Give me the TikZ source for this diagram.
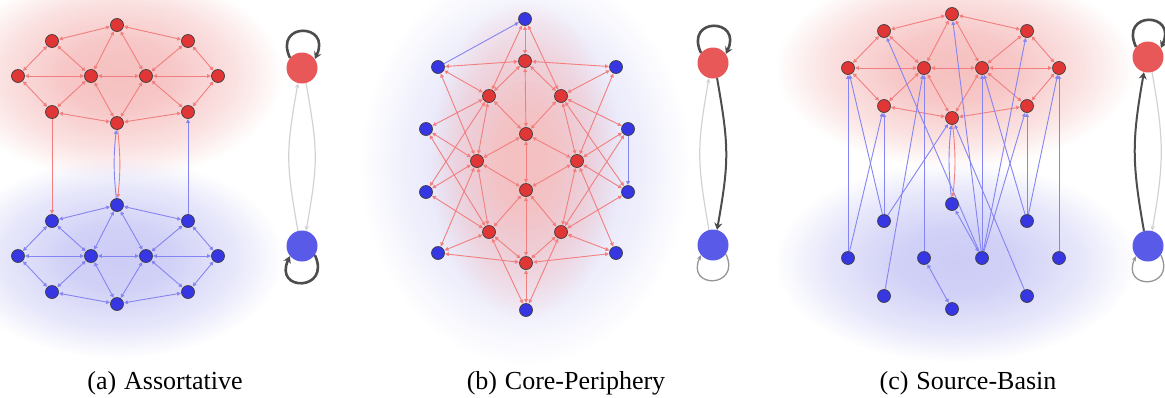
\documentclass[tikz,border=0pt]{standalone}
\usepackage{fontspec}
\setmainfont{Liberation Serif}
\usetikzlibrary{arrows.meta,fadings}
\definecolor{rnode}{HTML}{E03636}
\definecolor{bnode}{HTML}{3636E2}
\definecolor{redge}{HTML}{F27E7E}
\definecolor{bedge}{HTML}{8484F2}
\definecolor{rglow}{HTML}{F6C0C0}
\definecolor{bglow}{HTML}{CCCCF6}
\definecolor{bglowl}{HTML}{DCDCF8}
\definecolor{mred}{HTML}{E85858}
\definecolor{mblue}{HTML}{5A5AE8}
\definecolor{dk}{HTML}{4D4D4D}
\definecolor{lt}{HTML}{D2D2D2}
\definecolor{md}{HTML}{959595}
\pgfdeclareradialshading{glowsh}{\pgfpointorigin}{color(0bp)=(white); color(8bp)=(white!90!black); color(18bp)=(white!45!black); color(25bp)=(black); color(50bp)=(black)}
\pgfdeclarefading{glow}{\pgfuseshading{glowsh}}
\pgfdeclarelayer{glowl}
\pgfdeclarelayer{edges}
\pgfsetlayers{glowl,edges,main}
\newcommand\tenedges[2]{\foreach \u/\v in {T/UL,T/UR,T/IL,T/IR,UL/FL,UL/IL,UR/IR,UR/FR,FL/IL,IL/IR,IR/FR,FL/LL,IL/LL,IL/B,IR/B,IR/LR,FR/LR,LL/B,B/LR}{\draw[#2] (#1\u) -- (#1\v);}}
\tikzset{
  tri/.tip={Triangle[length=3.8pt,width=3.8pt]},
  mtip/.tip={Stealth[length=7pt,width=8pt]},
  stip/.tip={Stealth[length=5pt,width=4.5pt]},
  rn/.style={circle,fill=rnode,draw=black!75,line width=0.7pt,minimum size=13pt,inner sep=0pt},
  bn/.style={rn,fill=bnode},
  re/.style={draw=redge,line width=0.9pt,arrows={tri-tri},shorten <=0.3pt,shorten >=0.3pt},
  be/.style={re,draw=bedge},
  reone/.style={draw=redge,line width=0.9pt,arrows={-tri},shorten >=0.3pt},
  beone/.style={reone,draw=bedge},
  mr/.style={circle,fill=mred,minimum size=31pt,inner sep=0pt},
  mb/.style={mr,fill=mblue},
  thk/.style={draw=dk,line width=2.6pt,arrows={-mtip}},
  thkm/.style={draw=dk,line width=2pt,arrows={-mtip}},
  thn/.style={draw=lt,line width=1.2pt,arrows={-stip}},
  mdl/.style={draw=md,line width=1.3pt,arrows={-stip}},
  captext/.style={anchor=base,font=\fontsize{26}{30}\selectfont},
}
\begin{document}
\begin{tikzpicture}[x=1pt,y=1pt]
\useasboundingbox (0,0) rectangle (1165,-397);
% ---- glows
\begin{pgfonlayer}{glowl}
\fill[rglow,path fading=glow] (118,-75) ellipse [x radius=165, y radius=105];
\fill[bglow,path fading=glow] (118,-258) ellipse [x radius=165, y radius=100];
\fill[bglowl,path fading=glow] (525,-165) ellipse [x radius=165, y radius=200];
\fill[rglow,path fading=glow] (525,-160) ellipse [x radius=95, y radius=160];
\fill[rglow,path fading=glow] (955,-68) ellipse [x radius=180, y radius=100];
\fill[bglow,path fading=glow] (955,-262) ellipse [x radius=180, y radius=100];
\end{pgfonlayer}
% ---- panel (a)
\foreach \n/\x/\y in {T/117/25,UL/52/41,UR/188/41,FL/18/76,IL/91/76,IR/146/76,FR/218/76,LL/52/112,LR/188/112,B/117/123}
  \node[rn] (ar\n) at (\x,-\y) {};
\foreach \n/\x/\y in {T/117/205,UL/52/221,UR/188/221,FL/18/256,IL/91/256,IR/146/256,FR/218/256,LL/52/292,LR/188/292,B/117/304}
  \node[bn] (ab\n) at (\x,-\y) {};
\begin{pgfonlayer}{edges}
\tenedges{ar}{re}
\tenedges{ab}{be}
\draw[reone] (arLL) -- (abUL);
\draw[beone] (abUR) -- (arLR);
\draw[beone] (abT) to[out=96,in=-96] (arB);
\draw[reone] (arB) to[out=-84,in=84] (abT);
\end{pgfonlayer}
% meta (a)
\node[mr] (maR) at (302,-68) {};
\node[mb] (maB) at (302,-246) {};
\draw[thk] (maR.140) .. controls +(115:40) and +(65:40) .. (maR.35);
\draw[thk] (maB.-35) .. controls +(-65:40) and +(-115:40) .. (maB.-140);
\draw[thn] (maB.105) .. controls +(100:70) and +(-100:70) .. (maR.-105);
\draw[thn] (maR.-75) .. controls +(-80:70) and +(80:70) .. (maB.75);
% ---- panel (b)
\foreach \n/\x/\y in {FL/525/61,UL/489/96,LL/561/96,IL/526/134,T/477/161,B/577/161,IR/526/190,UR/489/232,LR/561/232,FR/526/263}
  \node[rn] (br\n) at (\x,-\y) {};
\foreach \n/\x/\y in {1/525/19,2/438/67,3/616/67,4/426/129,5/628/129,6/426/192,7/628/192,8/438/253,9/616/253,10/526/310}
  \node[bn] (bp\n) at (\x,-\y) {};
\begin{pgfonlayer}{edges}
\tenedges{br}{re}
\foreach \p/\a/\b/\c in {1/FL/UL/LL,2/FL/UL/T,3/FL/LL/B,4/UL/T/UR,5/LL/B/LR,6/UL/T/UR,7/LL/B/LR,8/T/UR/FR,9/B/LR/FR,10/UR/LR/FR}
  {\draw[re] (br\a) -- (bp\p); \draw[re] (br\b) -- (bp\p); \draw[re] (br\c) -- (bp\p);}
\draw[beone] (bp2) -- (bp1);
\draw[beone] (bp5) -- (bp7);
\end{pgfonlayer}
% meta (b)
\node[mr] (mbR) at (713,-63) {};
\node[mb] (mbB) at (713,-245) {};
\draw[thk] (mbR.140) .. controls +(115:40) and +(65:40) .. (mbR.35);
\draw[mdl] (mbB.-35) .. controls +(-65:38) and +(-115:38) .. (mbB.-140);
\draw[thn] (mbB.105) .. controls +(100:70) and +(-100:70) .. (mbR.-105);
\draw[thkm] (mbR.-75) .. controls +(-80:70) and +(80:70) .. (mbB.75);
% ---- panel (c)
\foreach \n/\x/\y in {T/952/14,UL/884/31,UR/1027/31,FL/848/68,IL/924/68,IR/982/68,FR/1059/68,LL/884/106,LR/1027/106,B/952/118}
  \node[rn] (cr\n) at (\x,-\y) {};
\foreach \n/\x/\y in {T/952/204,UL/884/221,UR/1027/221,FL/848/258,IL/924/258,IR/982/258,FR/1059/258,LL/884/296,LR/1027/296,B/952/309}
  \node[bn] (cb\n) at (\x,-\y) {};
\begin{pgfonlayer}{edges}
\tenedges{cr}{re}
\foreach \s/\t in {FL/FL,FL/LL,UL/LL,UL/FL,UL/B,LL/IL,IL/IL,IR/IR,IR/T,IR/UL,IR/UR,IR/LR,UR/LR,UR/IR,UR/FR,FR/FR,LR/B}
  {\draw[beone] (cb\s) -- (cr\t);}
\draw[be] (cbT) -- (cbIR);
\draw[be] (cbIL) -- (cbB);
\draw[beone] (cbT) to[out=96,in=-96] (crB);
\draw[reone] (crB) to[out=-84,in=84] (cbT);
\end{pgfonlayer}
% meta (c)
\node[mr] (mcR) at (1148,-57) {};
\node[mb] (mcB) at (1148,-246) {};
\draw[thk] (mcR.140) .. controls +(115:40) and +(65:40) .. (mcR.35);
\draw[mdl] (mcB.-35) .. controls +(-65:38) and +(-115:38) .. (mcB.-140);
\draw[thkm] (mcB.105) .. controls +(100:70) and +(-100:70) .. (mcR.-105);
\draw[thn] (mcR.-75) .. controls +(-80:70) and +(80:70) .. (mcB.75);
% ---- captions
\node[captext] (capa) at (165,-389) {(a)\hspace{0.3em}Assortative};
\node[captext] (capb) at (566,-389) {(b)\hspace{0.3em}Core-Periphery};
\node[captext] (capc) at (968,-389) {(c)\hspace{0.3em}Source-Basin};
\end{tikzpicture}
\end{document}
